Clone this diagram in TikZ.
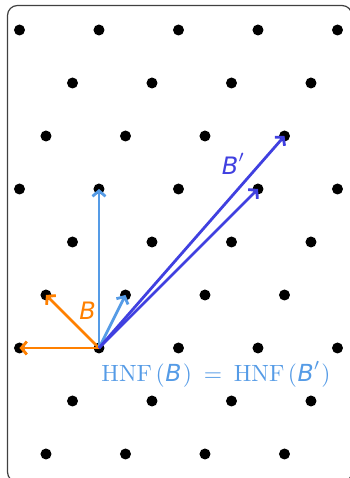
\documentclass[tikz,border=0pt]{standalone}
\usepackage{fontspec}
\usepackage{graphicx}
\newfontfamily\dvs{DejaVu Sans}
\usetikzlibrary{arrows.meta}
\definecolor{vorange}{RGB}{255,128,0}
\definecolor{vlblue}{RGB}{85,155,230}
\definecolor{vblue}{RGB}{64,64,224}
\newcommand{\sB}{\mbox{\dvs\itshape B}}
\begin{document}
\begin{tikzpicture}[x=26.5pt,y=26.5pt,
  dot/.style={circle,fill=black,inner sep=0pt,minimum size=11pt},
  vec/.style={line width=2.8pt,-{Straight Barb[length=5.5pt,width=13pt,line width=2.8pt]}},
  frame/.style={draw=black!75,line width=1.2pt,rounded corners=10pt},
  lab/.style={inner sep=0pt,font=\fontsize{24}{28}\selectfont}]
\useasboundingbox (-3.7358,-4.9057) rectangle (9.4717,13.1321);
\clip (-3.7358,-4.9057) rectangle (9.4717,13.1321);
\draw[frame] (-3.453,-5.057) rectangle (9.547,12.925);
\foreach \c in {-2,...,6}{
  \pgfmathtruncatemacro\yy{2*\c}
  \foreach \x in {-3,...,9}{
    \pgfmathtruncatemacro\r{mod(\x-\c+30,3)}
    \ifnum\r=0
      \node[dot] (p\x_\yy) at (\x,\yy) {};
    \fi
  }
}
\coordinate (o) at (p0_0.center);
\draw[vec,vorange] (o) -- (p-3_0.center);
\draw[vec,vorange] (o) -- (p-2_2.center);
\draw[vec,vlblue] (o) -- (p0_6.center);
\draw[vec,vlblue] (o) -- (p1_2.center);
\draw[vec,vblue] (o) -- (p6_6.center);
\draw[vec,vblue] (o) -- (p7_8.center);
\node[lab,text=vorange] (lb) at (-0.434,1.396) {\sB};
\node[inner sep=0pt,text=vblue] (lbp) at (5.074,6.96) {\scalebox{2.4}{$\sB'$}};
\node[inner sep=0pt,text=vlblue] (lh) at (4.415,-1.0)
  {\scalebox{2.35}{$\mathrm{HNF}\hspace{1.5pt}(\hspace{0.3pt}\sB\hspace{0.6pt})\hspace{2.2pt}=\hspace{2.2pt}\mathrm{HNF}\hspace{1.5pt}(\hspace{0.3pt}\sB'\hspace{0.4pt})$}};
\end{tikzpicture}
\end{document}
